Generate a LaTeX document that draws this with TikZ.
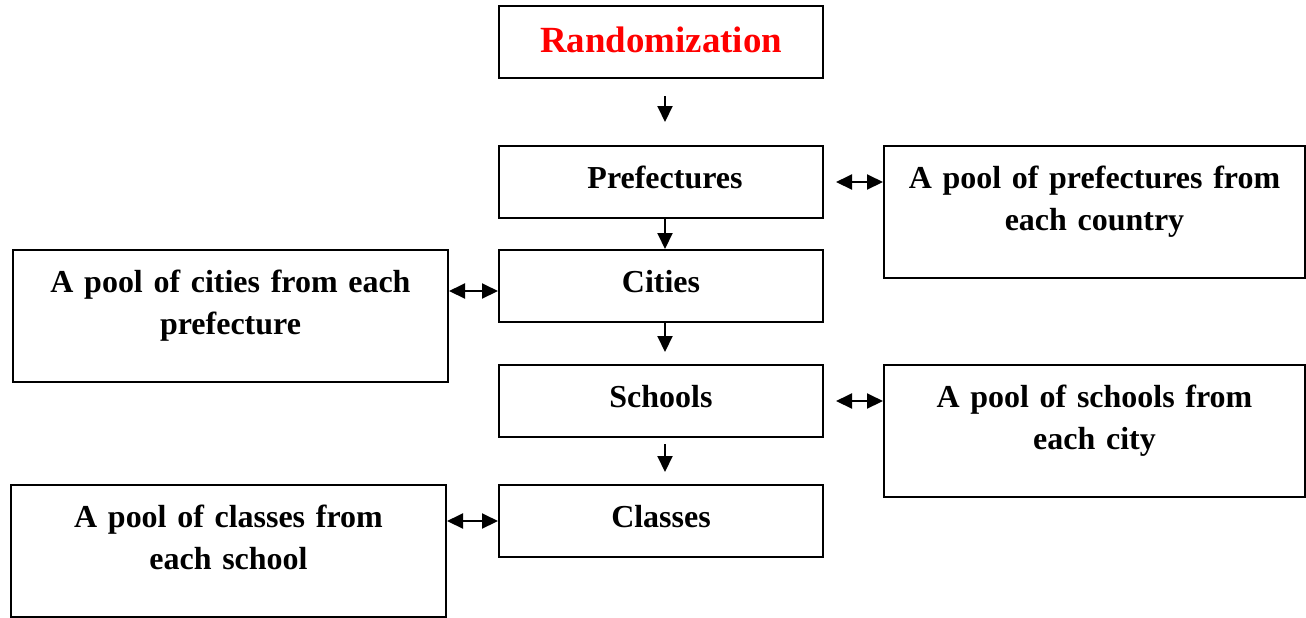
\documentclass[tikz,border=0pt]{standalone}
\usepackage{fontspec}
\setmainfont{Liberation Serif}
\usetikzlibrary{positioning,arrows.meta}

\begin{document}
\begin{tikzpicture}[>={Triangle[length=0.32cm,width=0.3cm]},line width=0.04cm,
  box/.style={draw,inner sep=0pt,minimum width=6.48cm,minimum height=1.44cm,
    text height=0.84cm,text depth=0.6cm,font=\fontsize{18.2pt}{23.9pt}\selectfont\bfseries},
  title/.style={box,text height=0.92cm,text depth=0.52cm,text=red,
    font=\fontsize{21pt}{25pt}\selectfont\bfseries},
  pool/.style={box,minimum width=#1,text width=#1,align=center,
    minimum height=2.64cm,text depth=1.8cm},
  pool/.default=8.42cm]
  \useasboundingbox (0,0) rectangle (26.12,-12.34);
  \node[title] (rand) at (13.22,-0.84) {Randomization};
  \node[box] (pref) [below=1.32cm of rand] {\hspace{0.16cm}Prefectures};
  \node[box] (cities) [below=0.6cm of pref] {Cities};
  \node[box] (schools) [below=0.82cm of cities] {Schools};
  \node[box] (classes) [below=0.92cm of schools] {Classes};
  \node[pool] (poolpref) [below right=0cm and 1.18cm of pref.north east]
    {A pool of prefectures from\\each country};
  \node[pool=8.7cm] (poolcities) [below left=0cm and 0.98cm of cities.north west]
    {A pool of cities from each\\prefecture};
  \node[pool] (poolschools) [below right=0cm and 1.18cm of schools.north east]
    {A pool of schools from\\each city};
  \node[pool=8.7cm] (poolclasses) [below left=0cm and 1.02cm of classes.north west]
    {A pool of classes from\\each school};
  \draw[->,shorten <=0.34cm,shorten >=0.46cm]
  ([xshift=0.08cm]rand.south) -- ([xshift=0.08cm]pref.north);
  \draw[->] ([xshift=0.08cm]pref.south) -- ([xshift=0.08cm]cities.north);
  \draw[->,shorten >=0.24cm]
  ([xshift=0.08cm]cities.south) -- ([xshift=0.08cm]schools.north);
  \draw[->,shorten <=0.12cm,shorten >=0.24cm]
  ([xshift=0.08cm]schools.south) -- ([xshift=0.08cm]classes.north);
  \draw[<->,shorten <=0.24cm] (pref.east) -- (pref.east -| poolpref.west);
  \draw[<->] ([yshift=-0.1cm]poolcities.east |- cities.west) -- ([yshift=-0.1cm]cities.west);
  \draw[<->,shorten <=0.24cm] (schools.east) -- (schools.east -| poolschools.west);
  \draw[<->] (poolclasses.east |- classes.west) -- (classes.west);
\end{tikzpicture}
\end{document}
